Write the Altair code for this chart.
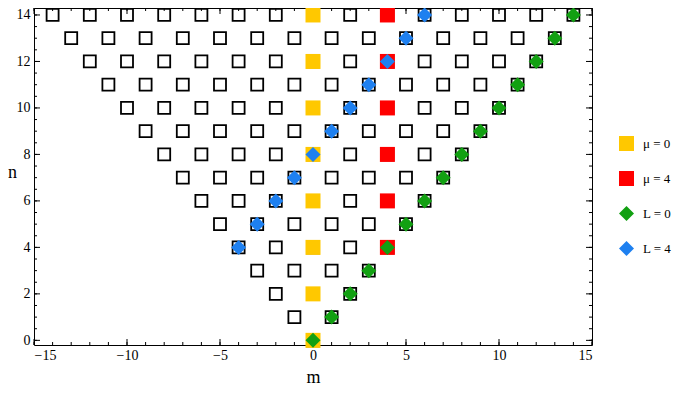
import altair as alt
import pandas as pd

# ---- data ----
grid_n = [n for n in range(0, 15) for m in range(-n, n + 1, 2)]
grid_m = [m for n in range(0, 15) for m in range(-n, n + 1, 2)]

mu0_m = [0, 0, 0, 0, 0, 0, 0, 0]
mu0_n = [0, 2, 4, 6, 8, 10, 12, 14]
mu4_m = [4, 4, 4, 4, 4, 4]
mu4_n = [4, 6, 8, 10, 12, 14]
L0_m = [0, 1, 2, 3, 4, 5, 6, 7, 8, 9, 10, 11, 12, 13, 14]
L0_n = [0, 1, 2, 3, 4, 5, 6, 7, 8, 9, 10, 11, 12, 13, 14]
L4_m = [-4, -3, -2, -1, 0, 1, 2, 3, 4, 5, 6]
L4_n = [4, 5, 6, 7, 8, 9, 10, 11, 12, 13, 14]

labels = ["μ = 0", "μ = 4", "L = 0", "L = 4"]
colors = ["#FFC800", "#FF0000", "#12A012", "#1E80F0"]
shapes = ["square", "square", "diamond", "diamond"]
sizes = [225, 225, 165, 165]

x_major = [-15, -10, -5, 0, 5, 10, 15]
x_minor = list(range(-15, 16))
y_major = [0, 2, 4, 6, 8, 10, 12, 14]
y_minor = [i * 0.5 for i in range(0, 29)]

# ---- tables ----
grid_df = pd.DataFrame({"m": grid_m, "n": grid_n})
rows = []
for lab, ms, ns in zip(labels, [mu0_m, mu4_m, L0_m, L4_m], [mu0_n, mu4_n, L0_n, L4_n]):
    for m, n in zip(ms, ns):
        rows.append({"m": m, "n": n, "label": lab})
col_df = pd.DataFrame(rows)

W, H = 558, 337
xs = alt.Scale(domain=[-15, 15], nice=False, zero=False)
ys = alt.Scale(domain=[-0.2, 14.3], nice=False, zero=False)

serif = "Liberation Serif"

x_axis = alt.Axis(values=x_major, ticks=False, domain=False, grid=False,
                  labelFont=serif, labelFontSize=14, labelColor="black",
                  labelPadding=3, labelExpr="replace(datum.label, '-', '−')",
                  title="m", titleFont=serif, titleFontSize=18, titleFontWeight="normal",
                  titleColor="black", titleY=37, titleBaseline="alphabetic")
y_axis = alt.Axis(values=y_major, ticks=False, domain=False, grid=False,
                  labelFont=serif, labelFontSize=14, labelColor="black",
                  labelPadding=4,
                  title="n", titleFont=serif, titleFontSize=18, titleFontWeight="normal",
                  titleColor="black", titleAngle=0, titleX=-22, titleY=169,
                  titleBaseline="alphabetic", titleAlign="center")

open_sq = alt.Chart(grid_df).mark_point(
    shape="square", filled=False, size=144, stroke="black", strokeWidth=1.8, opacity=1
).encode(
    x=alt.X("m:Q", scale=xs, axis=x_axis),
    y=alt.Y("n:Q", scale=ys, axis=y_axis),
)

colored = alt.Chart(col_df).mark_point(filled=True, opacity=1, strokeWidth=0).encode(
    x=alt.X("m:Q", scale=xs),
    y=alt.Y("n:Q", scale=ys),
    color=alt.Color("label:N", scale=alt.Scale(domain=labels, range=colors),
                    legend=alt.Legend(title=None, orient="none", legendX=585, legendY=128,
                                      labelFont=serif, labelFontSize=13, labelColor="black",
                                      rowPadding=20, labelOffset=9, padding=0,
                                      symbolStrokeWidth=0, symbolOpacity=1,
                                      labelLimit=60)),
    shape=alt.Shape("label:N", scale=alt.Scale(domain=labels, range=shapes)),
    size=alt.Size("label:N", scale=alt.Scale(domain=labels, range=sizes)),
)

# inward frame ticks
xmaj_df = pd.DataFrame({"v": x_major})
xmin_df = pd.DataFrame({"v": x_minor})
ymaj_df = pd.DataFrame({"v": y_major})
ymin_df = pd.DataFrame({"v": y_minor})

def xticks(df, length):
    b = alt.Chart(df).mark_rule(color="black", strokeWidth=1).encode(
        x=alt.X("v:Q", scale=xs), y=alt.value(H), y2=alt.value(H - length))
    t = alt.Chart(df).mark_rule(color="black", strokeWidth=1).encode(
        x=alt.X("v:Q", scale=xs), y=alt.value(0), y2=alt.value(length))
    return b + t

def yticks(df, length):
    l = alt.Chart(df).mark_rule(color="black", strokeWidth=1).encode(
        y=alt.Y("v:Q", scale=ys), x=alt.value(0), x2=alt.value(length))
    r = alt.Chart(df).mark_rule(color="black", strokeWidth=1).encode(
        y=alt.Y("v:Q", scale=ys), x=alt.value(W), x2=alt.value(W - length))
    return l + r

chart = alt.layer(
    xticks(xmaj_df, 6), xticks(xmin_df, 3), yticks(ymaj_df, 6), yticks(ymin_df, 3),
    open_sq, colored
).properties(
    width=W, height=H,
    autosize=alt.AutoSizeParams(type="none"),
    padding={"left": 26, "top": 0, "right": 80, "bottom": 40},
    background="white",
).configure_view(
    stroke="black", strokeWidth=1
)

chart.save("out.html", embed_options={"renderer": "svg", "actions": False})
